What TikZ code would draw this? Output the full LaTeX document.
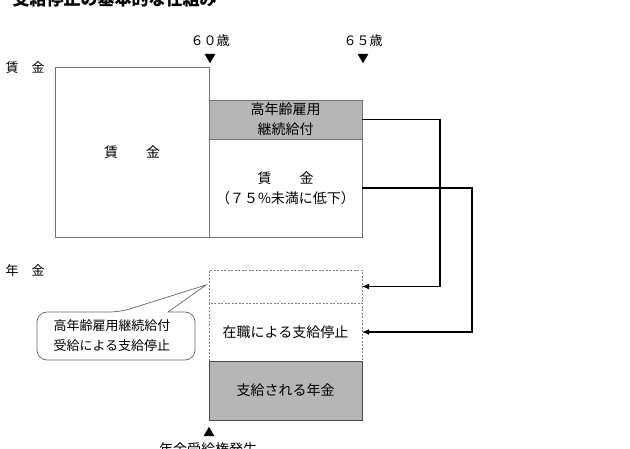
\documentclass[tikz,border=0pt]{standalone}
\usepackage{fontspec}
\setmainfont{Noto Sans CJK JP}
\usetikzlibrary{positioning, arrows.meta, shapes.geometric}
\definecolor{boxgrey}{RGB}{182,182,182}

\begin{document}
\begin{tikzpicture}[x=1pt, y=-1pt, font=\fontsize{14}{20}\selectfont,
  plainbox/.style={draw=black!55, line width=0.7pt, fill=white, inner sep=0pt,
    outer sep=0pt, minimum width=153pt, align=center},
  greybox/.style={plainbox, fill=boxgrey},
  dashbox/.style={plainbox, draw=black!50, dash pattern=on 2pt off 1.5pt},
  marker/.style={regular polygon, regular polygon sides=3, fill=black, draw=none,
    inner sep=0pt, minimum size=12.5pt},
  feed/.style={line width=1.4pt, -{Latex[length=7pt, width=6pt]}},
  small/.style={font=\fontsize{13}{20}\selectfont}]
  \useasboundingbox (0,0) rectangle (630,448);
  \node[anchor=west, font=\fontsize{17}{20}\selectfont\bfseries] (title) at (9,-1) {支給停止の基本的な仕組み};
  \node[small] (wagelabel) at (25,68) {賃　金};
  \node[small] (penlabel) at (25,271) {年　金};
  \node[small] (age60) at (210,41) {６０歳};
  \node[small] (age65) at (363,41) {６５歳};
  \node[marker, shape border rotate=180] (m60) at (210,57) {};
  \node[marker, shape border rotate=180] (m65) at (363,57) {};
  % wages
  \node[plainbox, minimum width=154pt, minimum height=170pt] (wage) at (132,152) {賃　　金};
  \node[greybox, minimum height=39pt] (koyo) at (285.5,119.5) {高年齢雇用\\継続給付};
  \node[plainbox, minimum height=98pt, below=0pt of koyo] (wage2) {賃　　金\\（７５\%未満に低下）};
  % pension
  \node[dashbox, minimum height=33pt] (gap) at (285.5,286.5) {};
  \node[dashbox, minimum height=58pt, below=0pt of gap] (stop) {在職による支給停止};
  \node[greybox, draw=black!70, minimum height=59pt, below=0pt of stop] (paid) {支給される年金};
  \node[marker] (start) at (209,433) {};
  \node (startlabel) at (208,449) {年金受給権発生};
  % callout
  \coordinate (tip) at ([xshift=-3pt, yshift=1.5pt]gap.west);
  \draw[draw=black!60, fill=white, line width=0.7pt]
    (116,360) [rounded corners=10pt] -- (37,360) -- (37,312) -- (120,312)
    [sharp corners] -- (tip) -- (168,312)
    [rounded corners=10pt] -- (195,312) -- (195,360) -- cycle;
  \node[small, align=left] (note) at (112,336) {高年齢雇用継続給付\\受給による支給停止};
  \draw[feed] (koyo.east) -- ++(78,0) |- (gap.east);
  \draw[feed] (wage2.east) -- ++(110,0) |- (stop.east);
\end{tikzpicture}
\end{document}
